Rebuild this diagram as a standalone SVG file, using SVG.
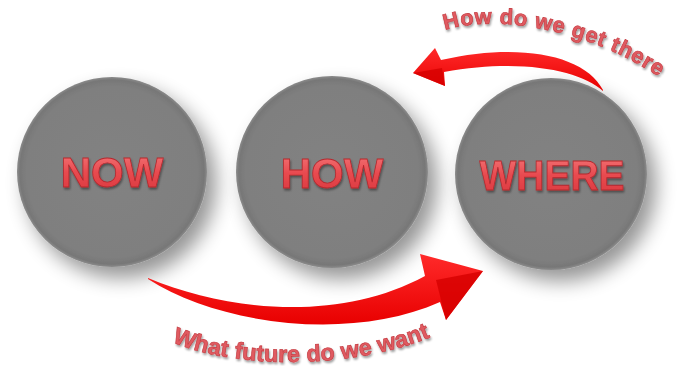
<svg xmlns="http://www.w3.org/2000/svg" width="678" height="366" viewBox="0 0 678 366">
<defs>
<filter id="shadow" x="-40%" y="-40%" width="190%" height="190%">
<feGaussianBlur in="SourceAlpha" stdDeviation="10"/>
<feOffset dx="9" dy="11" result="b"/>
<feComponentTransfer><feFuncA type="linear" slope="0.42"/></feComponentTransfer>
<feMerge><feMergeNode/><feMergeNode in="SourceGraphic"/></feMerge>
</filter>
<filter id="tshadow" x="-10%" y="-30%" width="120%" height="160%">
<feGaussianBlur in="SourceAlpha" stdDeviation="1"/>
<feOffset dx="1" dy="1.5"/>
<feComponentTransfer><feFuncA type="linear" slope="0.4"/></feComponentTransfer>
<feMerge><feMergeNode/><feMergeNode in="SourceGraphic"/></feMerge>
</filter>
<radialGradient id="disc" cx="50%" cy="50%" r="50%">
<stop offset="0" stop-color="#828282"/>
<stop offset="0.9" stop-color="#7f7f7f"/>
<stop offset="0.97" stop-color="#777777"/>
<stop offset="1" stop-color="#8c8c8c"/>
</radialGradient>
<linearGradient id="txt" x1="0" y1="0" x2="0" y2="1">
<stop offset="0" stop-color="#f47a7c"/>
<stop offset="0.5" stop-color="#e84a4f"/>
<stop offset="1" stop-color="#d8363c"/>
</linearGradient>
<linearGradient id="arrowB" x1="0" y1="0" x2="0" y2="1">
<stop offset="0" stop-color="#ff2a2a"/>
<stop offset="1" stop-color="#e80000"/>
</linearGradient>
<path id="pTop" d="M445,30 C490,15 590,25 672,86"/>
<path id="pBot" d="M172,342 C240,371 370,371 455,326"/>
<style>
.disc{fill:url(#disc);}
.label{font-family:"Liberation Sans",Arial,sans-serif;font-weight:bold;font-size:42px;fill:url(#txt);stroke:#b5282e;stroke-width:0.8;text-anchor:middle;}
.cap{font-family:"Liberation Sans",Arial,sans-serif;font-weight:bold;fill:#e05a60;stroke:#c2383e;stroke-width:0.6;}
.arrow{fill:url(#arrowB);}
.facet{fill:#d60000;opacity:0.8;}
</style>
</defs>
<rect width="678" height="366" fill="#ffffff"/>

<g id="node-now" filter="url(#shadow)">
<circle class="disc" cx="112" cy="172" r="95"/>
</g>
<text class="label" x="112" y="187" filter="url(#tshadow)">NOW</text>

<g id="node-how" filter="url(#shadow)">
<circle class="disc" cx="332" cy="172" r="96"/>
</g>
<text class="label" x="332" y="188" filter="url(#tshadow)">HOW</text>

<g id="node-where" filter="url(#shadow)">
<circle class="disc" cx="551" cy="174" r="96"/>
</g>
<text class="label" x="552" y="190" textLength="145" lengthAdjust="spacingAndGlyphs" filter="url(#tshadow)">WHERE</text>

<g id="connectors">
<g id="arrow-now-where">
<path class="arrow" d="M148,278 C230,312 340,322 425,276 L420,254 L483,271 L446,320 L440,302 C350,342 220,325 148,279 Z"/>
<path class="facet" d="M436,280 L483,271 L446,320 Z"/>
<text class="cap" font-size="23.5" filter="url(#tshadow)"><textPath href="#pBot">What future do we want</textPath></text>
</g>
<g id="arrow-where-how">
<path class="arrow" d="M603,90 C585,55 520,42 441,60 L435,48 L413,73 L445,86 L444,72 C520,58 580,70 603,91 Z"/>
<path class="facet" d="M413,73 L445,86 L442,68 Z"/>
<text class="cap" font-size="22" letter-spacing="0.6" filter="url(#tshadow)"><textPath href="#pTop">How do we get there</textPath></text>
</g>
</g>
</svg>
